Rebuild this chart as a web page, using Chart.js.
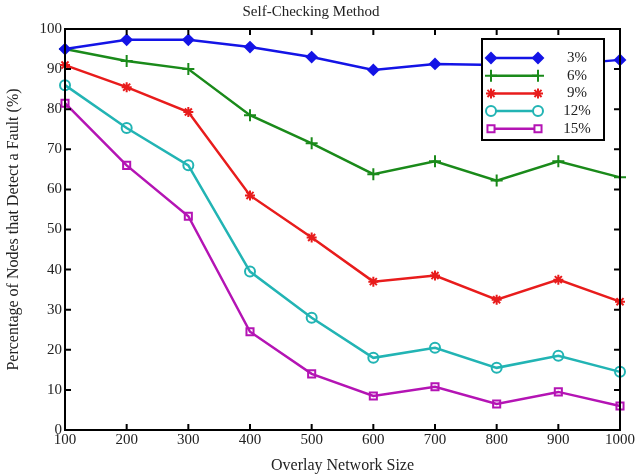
<!DOCTYPE html>
<html>
<head>
<meta charset="utf-8">
<script src="https://cdn.jsdelivr.net/npm/chart.js@4"></script>
<style>
  html, body { margin: 0; padding: 0; background: #fff; }
  #wrap { width: 636px; height: 475px; }
</style>
</head>
<body>
<div id="wrap"><canvas id="chart" width="636" height="475"></canvas></div>
<script>
const sizes = [100, 200, 300, 400, 500, 600, 700, 800, 900, 1000];
const fault3 = [95, 97.3, 97.3, 95.5, 93, 89.8, 91.3, 91, 91, 92.3];
const fault6 = [95, 92, 90, 78.5, 71.5, 63.8, 67, 62.2, 67, 63];
const fault9 = [91, 85.5, 79.3, 58.5, 48, 37, 38.5, 32.5, 37.5, 32];
const fault12 = [86, 75.3, 66, 39.5, 28, 18, 20.5, 15.5, 18.5, 14.5];
const fault15 = [81.5, 66, 53.3, 24.5, 14, 8.5, 10.8, 6.5, 9.5, 6];
const seriesNames = ['3%', '6%', '9%', '12%', '15%'];

const serif = "'Liberation Serif', 'DejaVu Serif', serif";

function toPoints(vals) {
    return vals.map((v, i) => ({ x: sizes[i], y: v }));
}

const styles = [
    { color: '#1414e6', point: 'rectRot', fill: true, radius: 5 },
    { color: '#1a8a1a', point: 'cross', fill: false, radius: 6 },
    { color: '#e81c1c', point: 'star', fill: false, radius: 5 },
    { color: '#22b4b4', point: 'circle', fill: false, radius: 5 },
    { color: '#b414b4', point: 'rect', fill: false, radius: 5 }
];
const allSeries = [fault3, fault6, fault9, fault12, fault15];

const datasets = allSeries.map((vals, i) => ({
    label: seriesNames[i],
    data: toPoints(vals),
    borderColor: styles[i].color,
    backgroundColor: styles[i].fill ? styles[i].color : 'rgba(0,0,0,0)',
    borderWidth: 2.5,
    pointStyle: styles[i].point,
    pointRadius: styles[i].radius,
    pointBorderWidth: 2,
    pointBorderColor: styles[i].color,
    pointBackgroundColor: styles[i].fill ? styles[i].color : 'rgba(0,0,0,0)',
    clip: false,
    tension: 0
}));

// frame, inward ticks and the boxed legend
const framePlugin = {
    id: 'frame',
    afterDraw(chart) {
        const ctx = chart.ctx;
        const a = chart.chartArea;
        const xs = chart.scales.x, ys = chart.scales.y;
        ctx.save();
        ctx.strokeStyle = '#000';
        ctx.lineWidth = 2;
        ctx.strokeRect(a.left, a.top, a.right - a.left, a.bottom - a.top);
        sizes.forEach((s) => {
            const px = xs.getPixelForValue(s);
            ctx.beginPath();
            ctx.moveTo(px, a.bottom); ctx.lineTo(px, a.bottom - 6);
            ctx.moveTo(px, a.top); ctx.lineTo(px, a.top + 6);
            ctx.stroke();
        });
        for (let v = 0; v <= 100; v += 10) {
            const py = ys.getPixelForValue(v);
            ctx.beginPath();
            ctx.moveTo(a.left, py); ctx.lineTo(a.left + 6, py);
            ctx.moveTo(a.right, py); ctx.lineTo(a.right - 6, py);
            ctx.stroke();
        }

        // legend box
        const lx = 482, ly = 39, lw = 122, lh = 101;
        ctx.fillStyle = '#fff';
        ctx.fillRect(lx, ly, lw, lh);
        ctx.lineWidth = 2;
        ctx.strokeStyle = '#000';
        ctx.strokeRect(lx, ly, lw, lh);
        ctx.font = '15px ' + serif;
        ctx.textBaseline = 'middle';
        ctx.textAlign = 'center';
        chart.data.datasets.forEach((ds, i) => {
            const y = 58 + i * 17.7;
            const x1 = 491, x2 = 538;
            ctx.strokeStyle = ds.borderColor;
            ctx.lineWidth = 2.5;
            ctx.beginPath();
            ctx.moveTo(x1, y); ctx.lineTo(x2, y);
            ctx.stroke();
            [x1, x2].forEach((x) => {
                ctx.strokeStyle = ds.borderColor;
                ctx.fillStyle = styles[i].fill ? ds.borderColor : '#fff';
                ctx.lineWidth = 2;
                Chart.helpers.drawPoint(ctx, {
                    pointStyle: ds.pointStyle,
                    radius: ds.pointRadius,
                    borderWidth: 2,
                    rotation: 0
                }, x, y);
            });
            ctx.fillStyle = '#222';
            ctx.fillText(ds.label, 577, y);
        });
        ctx.restore();
    }
};

const ctx = document.getElementById('chart').getContext('2d');
const chart = new Chart(ctx, {
    type: 'line',
    data: { datasets },
    options: {
        responsive: false,
        animation: false,
        layout: { padding: { left: 0, right: 14, top: 0, bottom: 0 } },
        plugins: {
            legend: { display: false },
            tooltip: { enabled: false },
            title: {
                display: true,
                text: 'Self-Checking Method',
                color: '#222',
                font: { family: serif, size: 15, weight: 'normal' },
                padding: { top: 3, bottom: 8 }
            }
        },
        scales: {
            x: {
                type: 'linear',
                min: 100,
                max: 1000,
                afterFit(scale) { scale.height = 45; },
                ticks: {
                    stepSize: 100,
                    color: '#222',
                    font: { family: serif, size: 15 },
                    padding: 1,
                    maxRotation: 0,
                    callback: (v) => String(v)
                },
                grid: { display: false, drawTicks: false },
                border: { display: false },
                title: {
                    display: true,
                    text: 'Overlay Network Size',
                    color: '#222',
                    font: { family: serif, size: 16 },
                    padding: { top: 0, bottom: 0 }
                }
            },
            y: {
                min: 0,
                max: 100,
                afterFit(scale) { scale.width = 65; },
                ticks: {
                    stepSize: 10,
                    color: '#222',
                    font: { family: serif, size: 15 },
                    padding: 3
                },
                grid: { display: false, drawTicks: false },
                border: { display: false },
                title: {
                    display: true,
                    text: 'Percentage of Nodes that Detect a Fault (%)',
                    color: '#222',
                    font: { family: serif, size: 16 },
                    padding: { top: 4, bottom: 0 }
                }
            }
        }
    },
    plugins: [framePlugin]
});
</script>
</body>
</html>
